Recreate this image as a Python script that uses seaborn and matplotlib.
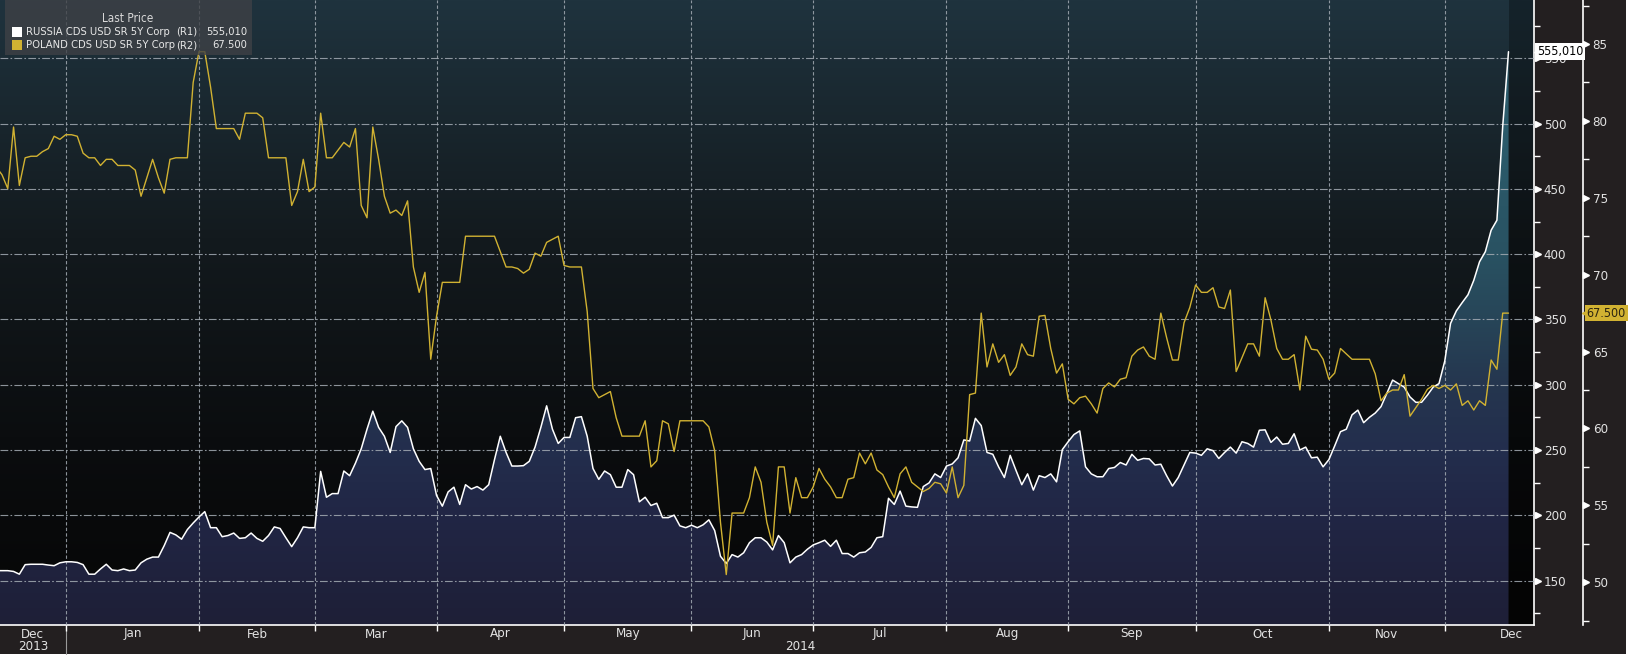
import numpy as np
import pandas as pd
import matplotlib
matplotlib.use("Agg")
import matplotlib.pyplot as plt
import seaborn as sns
from matplotlib import font_manager
from matplotlib.font_manager import FontProperties
from matplotlib.colors import LinearSegmentedColormap
from matplotlib.transforms import blended_transform_factory
from matplotlib.patches import Rectangle

# ---------------- data ----------------
start_date = "2013-12-16"   # business-day series, one value per weekday

russia = [
    157.7, 157.7, 157.7, 157.1, 155.0, 162.3, 162.6, 162.6, 162.6, 162.0,
    161.5, 163.7, 164.5, 164.5, 164.0, 162.3, 155.0, 155.0, 159.0, 162.6,
    158.2, 157.7, 159.0, 157.7, 158.2, 163.7, 166.5, 168.1, 168.1, 176.9,
    187.0, 185.1, 181.8, 189.2, 194.2, 198.8, 202.9, 190.6, 190.6, 183.7,
    184.6, 186.5, 182.4, 182.9, 186.5, 182.4, 180.2, 184.6, 191.2, 190.0,
    182.9, 176.1, 182.9, 191.2, 190.6, 190.6, 233.7, 213.9, 216.7, 216.7,
    234.0, 230.4, 240.0, 251.0, 266.0, 279.8, 267.4, 260.6, 248.2, 268.0,
    272.4, 267.4, 251.0, 241.4, 235.1, 235.9, 215.3, 207.1, 218.0, 221.6,
    208.4, 223.5, 220.2, 222.1, 219.4, 223.5, 242.7, 260.6, 248.2, 237.8,
    237.8, 238.1, 241.4, 252.3, 267.4, 283.9, 266.0, 255.1, 259.7, 259.7,
    274.8, 275.6, 260.6, 235.9, 227.6, 234.0, 231.2, 221.6, 221.6, 235.1,
    231.2, 210.4, 213.9, 207.6, 209.3, 198.3, 198.3, 200.2, 192.0, 190.6,
    192.5, 190.6, 192.8, 196.6, 188.4, 168.7, 163.2, 170.0, 168.1, 171.4,
    179.1, 182.9, 182.9, 179.6, 173.6, 184.6, 179.1, 163.7, 168.1, 170.0,
    174.1, 177.4, 179.1, 181.0, 176.3, 181.0, 170.8, 170.8, 168.1, 171.4,
    172.0, 175.5, 182.9, 183.7, 213.1, 208.4, 218.6, 207.1, 206.5, 206.2,
    222.1, 224.9, 231.8, 229.0, 237.8, 239.4, 244.1, 257.8, 257.0, 274.3,
    268.8, 248.2, 246.8, 237.2, 229.0, 246.0, 234.5, 223.5, 231.8, 219.4,
    230.4, 229.0, 231.8, 225.7, 250.4, 256.4, 261.9, 264.7, 237.2, 231.8,
    229.6, 229.6, 235.9, 236.7, 240.5, 238.6, 246.8, 242.2, 243.6, 243.3,
    238.6, 239.2, 230.4, 222.5, 229.0, 238.6, 248.2, 247.7, 246.0, 251.0,
    249.6, 243.6, 248.2, 252.3, 247.7, 256.4, 255.1, 252.3, 265.2, 265.5,
    255.9, 260.0, 254.5, 255.1, 262.5, 250.1, 252.3, 244.1, 244.6, 237.2,
    242.7, 253.2, 264.1, 266.0, 277.0, 280.6, 271.0, 275.1, 278.4, 283.3,
    293.5, 303.6, 300.9, 298.2, 290.7, 286.6, 286.6, 292.1, 298.2, 300.9,
    318.2, 347.0, 356.6, 362.9, 368.9, 379.9, 394.2, 401.9, 418.3, 426.0,
    497.9, 555.01,
]

poland = [
    77.0, 76.5, 75.6, 79.6, 75.8, 77.6, 77.7, 77.7, 78.0, 78.2,
    79.0, 78.8, 79.1, 79.1, 79.0, 77.9, 77.6, 77.6, 77.1, 77.5,
    77.5, 77.1, 77.1, 77.1, 76.8, 75.1, 76.3, 77.5, 76.3, 75.3,
    77.5, 77.6, 77.6, 77.6, 82.5, 84.5, 84.5, 82.2, 79.5, 79.5,
    79.5, 79.5, 78.8, 80.5, 80.5, 80.5, 80.2, 77.6, 77.6, 77.6,
    77.6, 74.5, 75.4, 77.5, 75.4, 75.7, 80.5, 77.6, 77.6, 78.1,
    78.6, 78.3, 79.5, 74.5, 73.7, 79.6, 77.5, 75.1, 74.0, 74.2,
    73.85, 74.8, 70.5, 68.85, 70.15, 64.5, 67.3, 69.5, 69.5, 69.5,
    69.5, 72.5, 72.5, 72.5, 72.5, 72.5, 72.5, 71.5, 70.5, 70.5,
    70.4, 70.1, 70.35, 71.4, 71.2, 72.1, 72.3, 72.5, 70.6, 70.5,
    70.5, 70.5, 67.6, 62.6, 62.0, 62.2, 62.4, 60.7, 59.5, 59.5,
    59.5, 59.5, 60.5, 57.5, 57.9, 60.5, 60.3, 58.5, 60.5, 60.5,
    60.5, 60.5, 60.5, 60.1, 58.55, 53.9, 50.5, 54.5, 54.5, 54.5,
    55.5, 57.5, 56.5, 53.9, 52.4, 57.5, 57.5, 54.5, 56.8, 55.5,
    55.5, 56.2, 57.4, 56.7, 56.2, 55.5, 55.5, 56.7, 56.8, 58.4,
    57.7, 58.4, 57.3, 57.0, 56.2, 55.5, 57.05, 57.5, 56.5, 56.2,
    55.9, 56.1, 56.5, 56.4, 55.8, 57.5, 55.5, 56.3, 62.2, 62.3,
    67.5, 64.0, 65.5, 64.3, 64.8, 63.45, 64.0, 65.5, 64.8, 64.7,
    67.3, 67.35, 65.2, 63.6, 64.2, 61.9, 61.6, 62.0, 62.1, 61.6,
    61.0, 62.6, 62.96, 62.7, 63.2, 63.3, 64.7, 65.1, 65.3, 64.7,
    64.5, 67.5, 65.9, 64.45, 64.45, 66.87, 67.87, 69.33, 68.85, 68.85,
    69.15, 67.9, 67.8, 69.0, 63.7, 64.6, 65.5, 65.5, 64.7, 68.5,
    67.05, 65.2, 64.5, 64.5, 64.8, 62.5, 66.0, 65.15, 65.1, 64.5,
    63.2, 63.6, 65.2, 64.85, 64.5, 64.5, 64.5, 64.5, 63.55, 61.8,
    62.3, 62.5, 62.5, 63.5, 60.8, 61.35, 61.9, 62.55, 62.8, 62.6,
    62.8, 62.5, 62.9, 61.5, 61.8, 61.2, 61.8, 61.5, 64.45, 63.85,
    67.5, 67.5,
]

r1_ticks = [150, 200, 250, 300, 350, 400, 450, 500, 550]
r1_minor = [125, 175, 225, 275, 325, 375, 425, 475, 525, 575]
r2_ticks = [50, 55, 60, 65, 70, 75, 80, 85]
r2_minor = [47.5, 52.5, 57.5, 62.5, 67.5, 72.5, 77.5, 82.5, 87.5]
month_names = ["Jan", "Feb", "Mar", "Apr", "May", "Jun",
               "Jul", "Aug", "Sep", "Oct", "Nov", "Dec"]
legend_title = "Last Price"
russia_name = "RUSSIA CDS USD SR 5Y Corp"
poland_name = "POLAND CDS USD SR 5Y Corp"
russia_last = "555,010"
poland_last = "67.500"

# ---------------- frame ----------------
n = len(russia)
dates = pd.bdate_range(start_date, periods=n)
df = pd.DataFrame({"idx": np.arange(n), "date": dates,
                   "russia": russia, "poland": poland})
cal = pd.bdate_range(start_date, "2015-01-31")
cal_df = pd.DataFrame({"d": cal, "i": np.arange(len(cal))})
month_first = cal_df.groupby([cal_df.d.dt.year, cal_df.d.dt.month])["i"].min()

sns.set_theme(style="white")

# pick a narrow font if one is installed
fp_main = None
prefs = ["LiberationSansNarrow-Regular", "DejaVuSansCondensed.ttf", "RobotoCondensed-Regular",
         "NotoSans-Condensed", "OpenSans-CondensedRegular", "OpenSans_Condensed-Regular"]
flist = [f.fname for f in font_manager.fontManager.ttflist]
for p in prefs:
    hits = [f for f in flist if p in f]
    if hits:
        fp_main = hits[0]
        break
if fp_main is None:
    for f in font_manager.fontManager.ttflist:
        if f.name == "Liberation Sans" and f.weight == 400 and f.style == "normal":
            fp_main = f.fname
            break
if fp_main is not None:
    font_manager.fontManager.addfont(fp_main)
    FONT = FontProperties(fname=fp_main).get_name()
else:
    FONT = "DejaVu Sans"
plt.rcParams["font.family"] = [FONT, "DejaVu Sans"]
if fp_main and "Condensed" in fp_main:
    plt.rcParams["font.stretch"] = "condensed"

W, H = 1629, 658
fig = plt.figure(figsize=(W / 100, H / 100), dpi=100, facecolor="white")
fig.patches.append(Rectangle((0, 4 / H), 1626 / W, 1 - 4 / H, transform=fig.transFigure,
                             facecolor="#231f20", edgecolor="none", zorder=-10))
PL, PR, PB = 0, 1534, 625
ax = fig.add_axes([PL / W, (H - PB) / H, (PR - PL) / W, PB / H])

XL0, XL1 = 0.66, 265.4
Y1LO, Y1HI = 116.1, 594.6
Y2LO, Y2HI = 47.22, 87.86

# background gradient
bg_cmap = LinearSegmentedColormap.from_list(
    "bg", [(0, "#060606"), (0.3, "#0b0d0f"), (0.62, "#131a1e"), (1, "#1f333e")])
ax.imshow(np.linspace(0, 1, 256).reshape(-1, 1), extent=[0, 1, 0, 1],
          transform=ax.transAxes, origin="lower", aspect="auto", cmap=bg_cmap, zorder=-5)

# gradient fill under Russia
fill_cmap = LinearSegmentedColormap.from_list(
    "fill", [(0, "#1e1f37"), (0.175, "#212645"), (0.28, "#232e4d"), (0.384, "#25364f"),
             (0.489, "#274558"), (0.593, "#295262"), (0.75, "#2b5a6a"), (1, "#2f6070")])
poly = ax.fill_between(df["idx"], df["russia"], Y1LO, facecolor="none", edgecolor="none")
im = ax.imshow(np.linspace(0, 1, 256).reshape(-1, 1), extent=[XL0, XL1, Y1LO, Y1HI],
               origin="lower", aspect="auto", cmap=fill_cmap, zorder=1)
im.set_clip_path(poly.get_paths()[0], transform=ax.transData)

# darker region after the last observation
ax.axvspan(n - 1, XL1, color="black", alpha=0.3, lw=0, zorder=1.5)

sns.lineplot(data=df, x="idx", y="russia", ax=ax, color="white", lw=1.1, zorder=4)

# second axis (R2)
ax2 = ax.twinx()
sns.lineplot(data=df, x="idx", y="poland", ax=ax2, color="#d1b232", lw=1.0, zorder=4)

# grids
grid_c = "#a3abb3"
ax.set_axisbelow(False)
ax.set_yticks(r1_ticks)
ax.set_yticks(r1_minor, minor=True)
bound_idx = [int(v) for (y, m), v in month_first.items() if (y, m) != (2013, 12) and v < XL1]
ax.set_xticks(bound_idx)
ax.yaxis.grid(True, which="major", color=grid_c, lw=0.8, ls=(0, (7, 2, 1.5, 2)), alpha=0.85)
ax.yaxis.grid(False, which="minor")
ax.xaxis.grid(True, which="major", color=grid_c, lw=0.8, ls=(0, (3, 2)), alpha=0.85)

ax.set_xlim(XL0, XL1)
ax.set_ylim(Y1LO, Y1HI)
ax.set_xlabel("")
ax.set_ylabel("")

for s in ["top", "left"]:
    ax.spines[s].set_visible(False)
for s in ["right", "bottom"]:
    ax.spines[s].set_color("white")
    ax.spines[s].set_linewidth(1.2)

lab_c = "#e2e2e2"
ax.yaxis.set_ticks_position("right")
ax.tick_params(axis="y", which="both", left=False, labelleft=False, right=True, labelright=True)
ax.tick_params(axis="y", which="major", length=0, pad=7, labelcolor=lab_c, labelsize=9.5)
ax.tick_params(axis="y", which="minor", length=4, width=1, color="white", direction="out")
ax.tick_params(axis="x", which="major", length=4, width=1, color="white", direction="out",
               labelbottom=False, bottom=True, top=False)

tri1 = blended_transform_factory(ax.transAxes, ax.transData)
ax.plot([1 + 3.5 / (PR - PL)] * len(r1_ticks), r1_ticks, ls="none", marker=">", ms=5,
        color="white", mec="white", transform=tri1, clip_on=False, zorder=6)

ax2.set_ylim(Y2LO, Y2HI)
ax2.set_xlim(XL0, XL1)
ax2.set_ylabel("")
ax2.set_xlabel("")
OFF2 = 1583 / (PR - PL)
ax2.spines["right"].set_position(("axes", OFF2))
for s in ["top", "left", "bottom"]:
    ax2.spines[s].set_visible(False)
ax2.spines["right"].set_color("white")
ax2.spines["right"].set_linewidth(1.2)
ax2.set_yticks(r2_ticks)
ax2.set_yticks(r2_minor, minor=True)
ax2.tick_params(axis="y", which="major", length=0, pad=7, labelcolor=lab_c, labelsize=9.5)
ax2.tick_params(axis="y", which="minor", length=4, width=1, color="white", direction="out")
ax2.grid(False)
tri2 = blended_transform_factory(ax2.transAxes, ax2.transData)
ax2.plot([OFF2 + 3.5 / (PR - PL)] * len(r2_ticks), r2_ticks, ls="none", marker=">", ms=5,
         color="white", mec="white", transform=tri2, clip_on=False, zorder=6)

# month and year labels
xt = blended_transform_factory(ax.transData, fig.transFigure)
months = list(month_first.items())
for k, ((y, m), s) in enumerate(months[:-1]):
    e = months[k + 1][1]
    if s >= n:
        break
    c = (max(s, XL0) + e) / 2
    ax.text(c, 1 - 634 / H, month_names[m - 1], transform=xt, ha="center", va="center",
            color=lab_c, fontsize=9.5)
jan = int(month_first[(2014, 1)])
ax.text((XL0 + jan) / 2, 1 - 647 / H, "2013", transform=xt, ha="center", va="center",
        color=lab_c, fontsize=9.5)
ax.text((jan + XL1) / 2, 1 - 647 / H, "2014", transform=xt, ha="center", va="center",
        color=lab_c, fontsize=9.5)
ax.plot([jan, jan], [1 - 626 / H, 4 / H], transform=xt, color="#9a9a9a", lw=0.8,
        clip_on=False)


# legend box
def fx(px):
    return px / W


def fy(py):
    return 1 - py / H


fig.patches.append(Rectangle((fx(5), fy(55)), fx(247), 55 / H, transform=fig.transFigure,
                             facecolor="#3e4146", edgecolor="none", alpha=0.8, zorder=20))

# choose a legend font size so that the name column fits its 146 px slot
renderer = fig.canvas.get_renderer()
leg_fs = 9.0
while leg_fs > 6.0:
    t = fig.text(0, 0, russia_name, fontsize=leg_fs)
    wpx = t.get_window_extent(renderer).width
    t.remove()
    if wpx <= 146:
        break
    leg_fs -= 0.25

fig.text(fx(128), fy(18), legend_title, ha="center", va="center", color="#d8d8d8",
         fontsize=leg_fs + 0.5, zorder=21)
rows = [(russia_name, "(R1)", russia_last, "white", 32),
        (poland_name, "(R2)", poland_last, "#d1b232", 45)]
for name, ax_tag, last, col, yy in rows:
    fig.patches.append(Rectangle((fx(12), fy(yy + 5)), fx(10), 10 / H,
                                 transform=fig.transFigure, facecolor=col,
                                 edgecolor="none", zorder=21))
    fig.text(fx(26), fy(yy), name, ha="left", va="center", color="#e8e8e8", fontsize=leg_fs,
             zorder=21)
    fig.text(fx(176), fy(yy), ax_tag, ha="left", va="center", color="#e8e8e8",
             fontsize=leg_fs, zorder=21)
    fig.text(fx(247), fy(yy), last, ha="right", va="center", color="#e8e8e8",
             fontsize=leg_fs, zorder=21)

# last value tags
tag_y1 = fy(PB - (russia[-1] - Y1LO) / (Y1HI - Y1LO) * PB)
tag_y2 = fy(PB - (poland[-1] - Y2LO) / (Y2HI - Y2LO) * PB)
fig.text(fx(1560), tag_y1, russia_last, ha="center", va="center", color="black",
         fontsize=9, zorder=31,
         bbox=dict(boxstyle="square,pad=0.15", facecolor="white", edgecolor="none"))
fig.add_artist(plt.Line2D([fx(1539)], [tag_y1], marker="<", ms=7, color="white",
                          transform=fig.transFigure, zorder=30))
fig.text(fx(1606), tag_y2, poland_last, ha="center", va="center", color="#2a2410",
         fontsize=9, zorder=31,
         bbox=dict(boxstyle="square,pad=0.15", facecolor="#d1b232", edgecolor="none"))
fig.add_artist(plt.Line2D([fx(1587)], [tag_y2], marker="<", ms=7, color="#d1b232",
                          transform=fig.transFigure, zorder=30))

fig.savefig("out.png", dpi=100, facecolor=fig.get_facecolor())
